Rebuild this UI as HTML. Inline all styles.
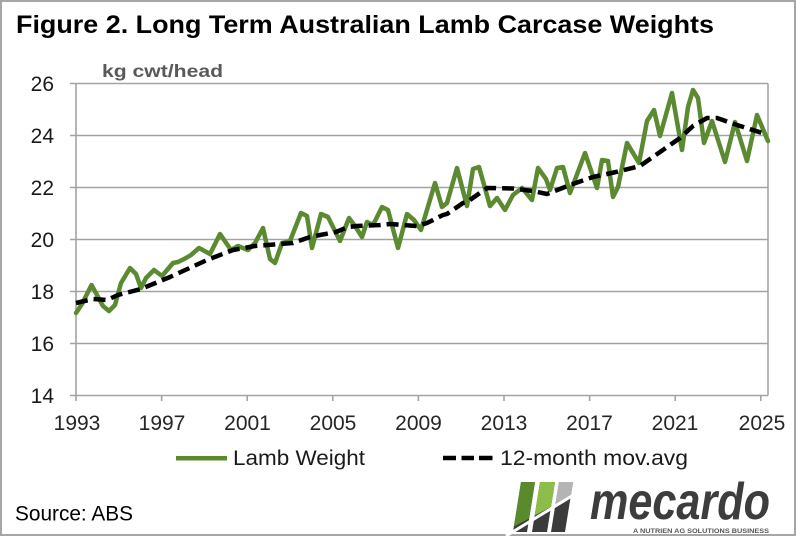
<!DOCTYPE html>
<html>
<head>
<meta charset="utf-8">
<style>
  html,body{margin:0;padding:0;background:#fff;}
  svg{display:block;}
  text{font-family:"Liberation Sans", Arial, sans-serif;}
</style>
</head>
<body>
<svg width="800" height="537" viewBox="0 0 800 537" xmlns="http://www.w3.org/2000/svg">
  <rect x="0" y="0" width="800" height="537" fill="#fff"/>
  <!-- frame -->
  <rect x="1" y="1" width="794" height="534" fill="none" stroke="#a6a6a6" stroke-width="2"/>

  <!-- title -->
  <text x="16" y="33" font-size="25" font-weight="bold" fill="#000" textLength="698" lengthAdjust="spacingAndGlyphs">Figure 2. Long Term Australian Lamb Carcase Weights</text>
  <text x="102" y="77" font-size="17.5" font-weight="bold" fill="#595959" textLength="121" lengthAdjust="spacingAndGlyphs">kg cwt/head</text>

  <!-- gridlines -->
  <g stroke="#a3a3a3" stroke-width="1.6">
    <line x1="70" y1="83.5" x2="768" y2="83.5"/>
    <line x1="70" y1="135.5" x2="768" y2="135.5"/>
    <line x1="70" y1="187.5" x2="768" y2="187.5"/>
    <line x1="70" y1="239.5" x2="768" y2="239.5"/>
    <line x1="70" y1="291.5" x2="768" y2="291.5"/>
    <line x1="70" y1="343.5" x2="768" y2="343.5"/>
    <line x1="70" y1="395.5" x2="768" y2="395.5"/>
    <line x1="76" y1="83.5" x2="76" y2="401"/>
    <line x1="768" y1="83.5" x2="768" y2="395.5"/>
    <line x1="161.6" y1="395.5" x2="161.6" y2="401"/>
    <line x1="247.2" y1="395.5" x2="247.2" y2="401"/>
    <line x1="332.8" y1="395.5" x2="332.8" y2="401"/>
    <line x1="418.4" y1="395.5" x2="418.4" y2="401"/>
    <line x1="504" y1="395.5" x2="504" y2="401"/>
    <line x1="589.6" y1="395.5" x2="589.6" y2="401"/>
    <line x1="675.2" y1="395.5" x2="675.2" y2="401"/>
    <line x1="760.8" y1="395.5" x2="760.8" y2="401"/>
  </g>

  <!-- y labels -->
  <g font-size="21" fill="#1a1a1a" text-anchor="end">
    <text x="54" y="91">26</text>
    <text x="54" y="143">24</text>
    <text x="54" y="195">22</text>
    <text x="54" y="247">20</text>
    <text x="54" y="299">18</text>
    <text x="54" y="351">16</text>
    <text x="54" y="403">14</text>
  </g>
  <!-- x labels -->
  <g font-size="21" fill="#262626" text-anchor="middle">
    <text x="77" y="430">1993</text>
    <text x="162" y="430">1997</text>
    <text x="247.5" y="430">2001</text>
    <text x="333" y="430">2005</text>
    <text x="418.5" y="430">2009</text>
    <text x="504" y="430">2013</text>
    <text x="589.5" y="430">2017</text>
    <text x="675" y="430">2021</text>
    <text x="762" y="430">2025</text>
  </g>

  <!-- lamb weight series -->
  <polyline fill="none" stroke="#5b8a31" stroke-width="4.5" stroke-linejoin="round" stroke-linecap="round"
    points="76,313 82,304 91.5,285 103,306 109,311 115,305 121,283 130,268 136,274 141,288 146,278 154,270 162,276 173,263 178,262 186,258 191,255 199,248 210,254 220,234 231,250 238,246 248,250 255,243 263,228 270,259 275,263 282,243 290,241 301,213 307,216 312,248 321,214 328,217 340,241 349,218 355,226 362,237 367,222 373,225 382,207 388,210 398,248 407,214 414,220 421,230 435,183 442,207 447,203 457,168 467,206 473,169 479,167 490,206 497,198 505,210 513,195 522,188 532,200 538,168 546,179 550,190 557,168 563,167 570,193 585,153 597,188 602,160 608,161 613,197 618,187 627,143 639,163 647,121 654,110 660,136 672,93 682,150 688,107 693,90 698,98 704,143 712,121 725,162 735,122 747,161 757,115 768,141"/>

  <!-- moving average -->
  <polyline fill="none" stroke="#000" stroke-width="4.5" stroke-dasharray="12 6" stroke-linejoin="round"
    points="76,303 93,299 107,300 118,295 141,289 170,277 207,260 233,250 255,246 274,244.5 293,243 310,237 320,235 336,232 348,227 357,226 380,225 390,224 417,226 427,223 443,215 447,214 463,203 467,202 487,188 513,188.5 533,191 547,194 570,185 593,177 616,172 640,166 660,152 680,138 693,126 707,118 717,118 737,125 767,134.5"/>

  <!-- legend -->
  <line x1="176" y1="458.3" x2="227" y2="458.3" stroke="#5b8a31" stroke-width="4.5"/>
  <text x="233" y="465" font-size="21" fill="#1a1a1a" textLength="132" lengthAdjust="spacingAndGlyphs">Lamb Weight</text>
  <g stroke="#000" stroke-width="4.5">
    <line x1="443" y1="458" x2="456" y2="458"/>
    <line x1="461.5" y1="458" x2="474" y2="458"/>
    <line x1="479" y1="458" x2="492.5" y2="458"/>
  </g>
  <text x="500" y="465" font-size="21" fill="#1a1a1a" textLength="188" lengthAdjust="spacingAndGlyphs">12-month mov.avg</text>

  <!-- source -->
  <text x="15" y="520.5" font-size="21" fill="#000" textLength="118" lengthAdjust="spacingAndGlyphs">Source: ABS</text>

  <!-- logo -->
  <defs>
    <clipPath id="top">
      <polygon points="500,470 590,470 590,486 500,534"/>
    </clipPath>
  </defs>
  <g fill="#3b3b3b">
    <polygon points="521,482 535,482 527,532 513,532"/>
    <polygon points="540,482 555,482 547,532 532,532"/>
    <polygon points="559,482 573,482 565,532 551,532"/>
  </g>
  <g clip-path="url(#top)">
    <polygon points="521,482 535,482 527,532 513,532" fill="#5b8a2e"/>
    <polygon points="540,482 555,482 547,532 532,532" fill="#8dbe4b"/>
    <polygon points="559,482 573,482 565,532 551,532" fill="#b4b4b4"/>
  </g>
  <line x1="506" y1="536" x2="585" y2="488" stroke="#fff" stroke-width="3"/>
  <text x="590" y="519" font-size="52" font-weight="bold" font-style="italic" fill="#3d3d3d" textLength="180" lengthAdjust="spacingAndGlyphs">mecardo</text>
  <text x="633" y="533" font-size="6" font-weight="bold" fill="#555" textLength="136" lengthAdjust="spacingAndGlyphs">A NUTRIEN AG SOLUTIONS BUSINESS</text>
</svg>
</body>
</html>
